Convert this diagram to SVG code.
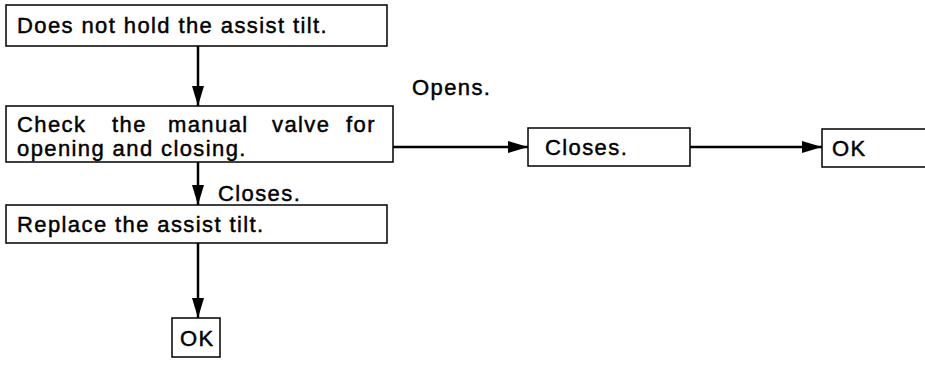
<svg xmlns="http://www.w3.org/2000/svg" width="925" height="373" viewBox="0 0 925 373">
  <defs>
    <style>
      .box { fill: #fff; stroke: #000; stroke-width: 1.5; }
      .lbl { font-family: "Liberation Sans", Arial, sans-serif; font-size: 22px; letter-spacing: 1.4px; fill: #000; stroke: #000; stroke-width: 0.45; }
      .edge { stroke: #000; stroke-width: 2.5; fill: none; }
    </style>
    <marker id="ah" markerWidth="20" markerHeight="12" viewBox="0 0 20 12" refX="20" refY="6" orient="auto" markerUnits="userSpaceOnUse">
      <path d="M0,0 L20,6 L0,12 Z" fill="#000"/>
    </marker>
  </defs>

  <!-- connectors and their labels -->
  <g id="connectors">
    <line class="edge" x1="198" y1="46" x2="198" y2="106" marker-end="url(#ah)"/>
    <line class="edge" x1="393" y1="147" x2="528" y2="147" marker-end="url(#ah)"/>
    <line class="edge" x1="690" y1="147" x2="822" y2="147" marker-end="url(#ah)"/>
    <line class="edge" x1="198" y1="162" x2="198" y2="205" marker-end="url(#ah)"/>
    <line class="edge" x1="198" y1="243" x2="198" y2="318" marker-end="url(#ah)"/>
    <text class="lbl" x="412" y="95">Opens.</text>
    <text class="lbl" x="218" y="201">Closes.</text>
  </g>

  <g id="start">
    <rect class="box" x="6" y="5" width="381" height="41"/>
    <text class="lbl" x="17" y="33">Does not hold the assist tilt.</text>
  </g>

  <g id="check">
    <rect class="box" x="6" y="106" width="387" height="56"/>
    <text class="lbl" y="132">
      <tspan x="17">Check</tspan>
      <tspan x="112">the</tspan>
      <tspan x="168">manual</tspan>
      <tspan x="272">valve</tspan>
      <tspan x="346">for</tspan>
    </text>
    <text class="lbl" x="17" y="156">opening and closing.</text>
  </g>

  <g id="closes">
    <rect class="box" x="528" y="128" width="162" height="38"/>
    <text class="lbl" x="545" y="155">Closes.</text>
  </g>

  <g id="ok-right">
    <rect class="box" x="822" y="129" width="110" height="38"/>
    <text class="lbl" x="832" y="156">OK</text>
  </g>

  <g id="replace">
    <rect class="box" x="6" y="205" width="381" height="38"/>
    <text class="lbl" x="17" y="232">Replace the assist tilt.</text>
  </g>

  <g id="ok-bottom">
    <rect class="box" x="172" y="318" width="48" height="39"/>
    <text class="lbl" x="180" y="346">OK</text>
  </g>
</svg>
